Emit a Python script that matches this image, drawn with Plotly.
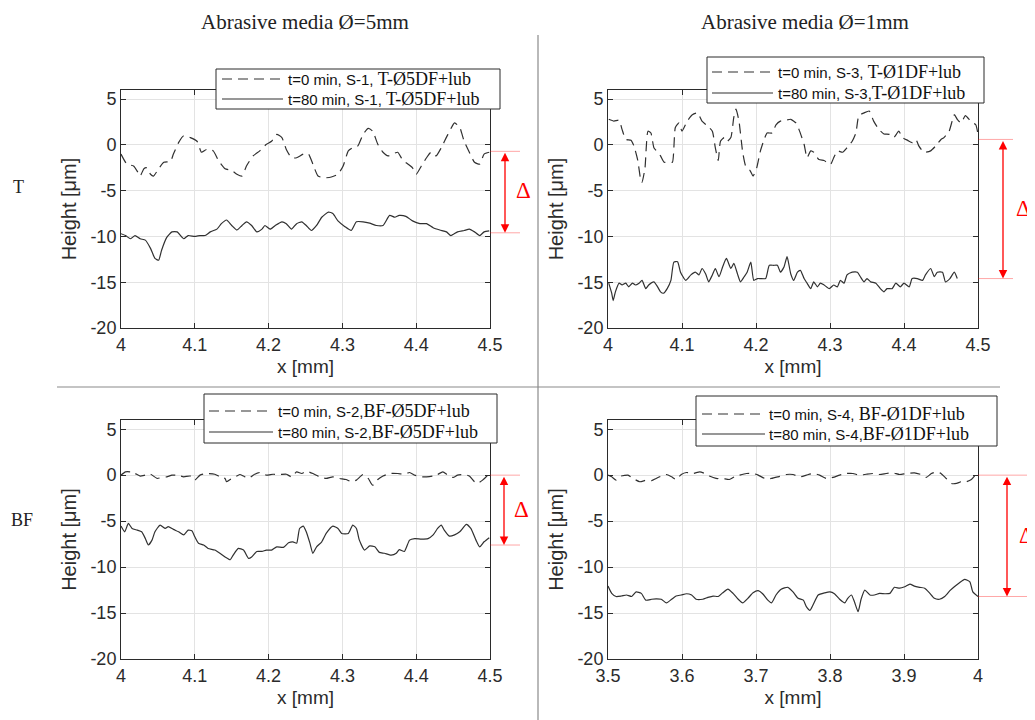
import plotly.graph_objects as go

# ---------------- data ----------------
# Panel 1 (T, Ø5mm)
x_s1_t0 = [4.000,4.008,4.017,4.023,4.026,4.031,4.035,4.040,4.044,4.051,4.058,4.067,4.071,4.078,4.085,4.094,4.103,4.109,4.116,4.125,4.132,4.141,4.150,4.157,4.164,4.170,4.179,4.188,4.197,4.204,4.211,4.218,4.224,4.231,4.238,4.247,4.254,4.260,4.267,4.276,4.285,4.294,4.301,4.308,4.314,4.321,4.328,4.335,4.341,4.348,4.355,4.362,4.368,4.375,4.382,4.389,4.395,4.400,4.407,4.414,4.420,4.427,4.434,4.443,4.452,4.459,4.465,4.472,4.479,4.486,4.492,4.499]
y_s1_t0 = [-1.0,-2.1,-2.3,-3.0,-3.4,-2.6,-2.5,-3.2,-3.4,-2.6,-1.9,-1.8,-1.0,0.25,1.0,0.8,0.4,-0.8,-0.5,-0.65,-1.7,-2.6,-2.8,-3.2,-3.4,-2.3,-1.2,-0.65,0.07,0.4,1.15,0.8,-0.5,-1.4,-1.4,-1.0,-1.0,-2.1,-3.4,-3.6,-3.5,-3.2,-2.3,-0.65,-0.3,-0.1,1.15,1.8,1.5,0.07,-0.8,-1.2,-1.0,-0.8,-1.7,-2.1,-2.5,-3.2,-2.3,-1.4,-0.8,-1.2,-0.3,1.15,2.4,1.9,0.4,-0.8,-1.9,-2.1,-1.0,-0.8]
x_s1_t80 = [4.000,4.006,4.013,4.019,4.026,4.033,4.040,4.046,4.051,4.055,4.062,4.069,4.076,4.085,4.091,4.100,4.107,4.114,4.121,4.130,4.136,4.143,4.150,4.157,4.164,4.170,4.177,4.184,4.191,4.195,4.202,4.209,4.218,4.224,4.231,4.238,4.245,4.251,4.258,4.265,4.272,4.281,4.287,4.294,4.303,4.312,4.319,4.328,4.337,4.346,4.355,4.364,4.371,4.377,4.386,4.395,4.405,4.414,4.423,4.432,4.441,4.447,4.456,4.465,4.472,4.479,4.486,4.492,4.499]
y_s1_t80 = [-9.7,-9.9,-10.25,-9.9,-10.25,-10.4,-11.3,-12.4,-12.6,-11.5,-10.1,-9.5,-9.5,-10.25,-9.9,-10.0,-9.9,-9.9,-9.5,-9.2,-8.6,-8.2,-8.8,-9.3,-8.8,-8.4,-8.8,-9.5,-9.2,-8.8,-9.2,-8.8,-8.4,-8.6,-9.2,-8.6,-8.4,-8.8,-9.35,-8.8,-7.9,-7.35,-7.5,-8.3,-8.9,-9.35,-8.4,-8.4,-8.55,-8.8,-8.8,-7.7,-7.9,-7.7,-7.8,-8.3,-8.6,-8.6,-9.05,-9.3,-9.5,-9.9,-9.5,-9.35,-9.2,-9.5,-9.9,-9.5,-9.4]

# Panel 2 (T, Ø1mm)
x_s3_t0 = [4.001,4.008,4.015,4.019,4.024,4.031,4.035,4.040,4.044,4.046,4.050,4.054,4.058,4.062,4.067,4.071,4.076,4.082,4.087,4.091,4.096,4.100,4.107,4.114,4.121,4.127,4.134,4.141,4.145,4.149,4.152,4.157,4.161,4.166,4.170,4.173,4.177,4.182,4.186,4.192,4.196,4.201,4.206,4.211,4.215,4.222,4.227,4.233,4.240,4.247,4.254,4.258,4.265,4.269,4.274,4.278,4.285,4.292,4.296,4.301,4.305,4.310,4.317,4.323,4.330,4.335,4.339,4.346,4.353,4.359,4.366,4.373,4.380,4.386,4.393,4.398,4.405,4.411,4.416,4.420,4.425,4.429,4.436,4.443,4.450,4.454,4.461,4.468,4.472,4.477,4.483,4.490,4.497,4.500]
y_s3_t0 = [2.8,2.6,2.7,1.7,0.6,0.5,-0.1,-1.6,-3.7,-4.1,-2.5,1.5,1.3,-0.3,-0.8,-1.2,-1.9,-1.8,-1.9,1.9,2.4,1.5,2.6,3.3,3.5,2.6,2.1,1.5,-0.3,-1.7,0.4,0.8,0.4,0.8,3.0,3.9,2.6,-0.8,-2.3,-2.8,-3.4,-2.5,-0.65,0.6,1.3,1.3,2.2,2.6,2.7,2.8,2.4,1.7,0.07,-1.4,-0.65,-0.8,-1.6,-1.7,-1.9,-2.1,-1.4,-0.65,-0.8,-0.3,0.4,1.3,3.2,3.5,3.7,2.6,1.7,1.2,1.15,0.8,1.5,0.8,0.5,0.25,0.6,-0.1,-0.65,-0.8,-0.65,-0.1,0.6,0.8,1.5,3.3,2.8,2.4,3.2,2.6,2.2,1.15]
x_s3_t80 = [4.001,4.005,4.007,4.010,4.015,4.019,4.024,4.028,4.033,4.037,4.042,4.046,4.051,4.055,4.062,4.067,4.071,4.075,4.080,4.085,4.089,4.094,4.098,4.105,4.112,4.118,4.123,4.127,4.132,4.136,4.141,4.145,4.150,4.155,4.160,4.166,4.170,4.175,4.179,4.184,4.188,4.193,4.197,4.202,4.206,4.213,4.218,4.224,4.229,4.233,4.238,4.242,4.247,4.251,4.256,4.260,4.265,4.269,4.274,4.278,4.283,4.287,4.292,4.299,4.305,4.310,4.314,4.319,4.323,4.330,4.337,4.341,4.346,4.350,4.355,4.362,4.368,4.373,4.377,4.384,4.389,4.395,4.400,4.407,4.411,4.418,4.425,4.429,4.436,4.441,4.445,4.452,4.456,4.462,4.468,4.472]
y_s3_t80 = [-15.1,-16.2,-17.0,-16.05,-15.1,-15.3,-15.1,-15.5,-15.1,-15.3,-15.1,-14.8,-15.7,-15.3,-14.96,-15.5,-16.05,-16.2,-15.7,-14.8,-12.8,-12.75,-13.9,-14.8,-14.2,-13.9,-14.2,-13.5,-14.1,-14.96,-14.2,-13.5,-14.4,-13.3,-12.4,-13.5,-12.95,-14.1,-14.96,-14.4,-13.9,-12.8,-14.8,-14.6,-14.6,-14.6,-13.15,-13.15,-13.15,-13.9,-13.3,-12.2,-14.1,-14.8,-13.9,-13.7,-14.6,-15.1,-15.7,-14.96,-15.5,-15.1,-15.3,-15.7,-15.3,-15.5,-14.8,-15.1,-14.2,-13.9,-13.9,-14.4,-14.96,-14.6,-14.96,-15.1,-15.7,-16.05,-15.7,-15.7,-15.1,-15.5,-15.1,-15.5,-14.6,-14.6,-14.8,-14.2,-13.5,-14.4,-13.9,-13.9,-14.96,-14.6,-13.9,-14.6]

# Panel 3 (BF, Ø5mm)
x_s2_t0 = [4.000,4.006,4.013,4.019,4.026,4.033,4.040,4.049,4.055,4.062,4.069,4.076,4.085,4.094,4.100,4.107,4.116,4.127,4.134,4.141,4.143,4.148,4.155,4.161,4.166,4.173,4.179,4.188,4.197,4.206,4.215,4.224,4.231,4.238,4.245,4.251,4.260,4.269,4.278,4.287,4.296,4.305,4.312,4.319,4.328,4.335,4.341,4.348,4.355,4.364,4.375,4.384,4.391,4.398,4.405,4.414,4.423,4.429,4.436,4.443,4.450,4.456,4.465,4.472,4.479,4.483,4.490,4.497]
y_s2_t0 = [0,0.36,0.36,0.18,-0.1,0,0.1,-0.36,-0.25,-0.18,0,0,-0.18,-0.1,-0.54,0,0.18,0.1,-0.18,-0.36,-0.72,-0.47,-0.18,0.07,-0.1,-0.36,0,0.29,0,0.1,0.07,0.1,-0.18,0.36,0.18,0.43,0.18,-0.18,-0.36,-0.18,-0.36,-0.47,-0.72,-0.54,0.07,-0.36,-1.1,-0.47,-0.1,0.18,0.18,0.1,0.29,0,-0.18,-0.18,-0.1,0.07,0.36,0,-0.25,0,0.07,-0.1,-0.72,-0.9,-0.54,0]
x_s2_t80 = [4.000,4.005,4.010,4.015,4.022,4.028,4.033,4.037,4.042,4.046,4.053,4.060,4.064,4.071,4.078,4.085,4.091,4.096,4.100,4.105,4.112,4.118,4.127,4.134,4.141,4.148,4.152,4.159,4.166,4.173,4.177,4.184,4.191,4.197,4.204,4.211,4.220,4.227,4.233,4.238,4.242,4.247,4.251,4.256,4.260,4.265,4.272,4.278,4.287,4.294,4.299,4.308,4.314,4.319,4.323,4.330,4.337,4.344,4.350,4.357,4.366,4.373,4.377,4.384,4.391,4.398,4.407,4.416,4.423,4.429,4.434,4.438,4.445,4.452,4.459,4.468,4.474,4.481,4.486,4.492,4.499]
y_s2_t80 = [-5.54,-6.16,-5.25,-5.8,-5.98,-6.16,-6.9,-7.6,-7.07,-6.16,-5.43,-5.8,-5.6,-5.9,-6.16,-6.5,-5.98,-6.05,-6.7,-7.4,-7.6,-7.97,-8.15,-8.5,-8.9,-9.2,-8.7,-7.97,-8.15,-9.06,-8.9,-8.3,-8.3,-8.15,-8.15,-7.8,-7.86,-7.36,-7.25,-7.4,-5.8,-5.54,-6.16,-7.4,-8.5,-7.8,-7.25,-6.34,-5.54,-5.8,-6.34,-6.34,-5.43,-5.8,-7.07,-8.15,-7.7,-7.8,-8.4,-8.5,-8.7,-8.5,-8.1,-8.3,-7.07,-6.9,-6.95,-6.9,-6.5,-5.8,-5.43,-5.98,-6.63,-6.5,-6.16,-5.36,-5.8,-7.07,-7.8,-7.25,-6.8]

# Panel 4 (BF, Ø1mm)
x_s4_t0 = [3.500,3.505,3.511,3.518,3.527,3.534,3.543,3.552,3.559,3.565,3.572,3.579,3.586,3.592,3.599,3.606,3.615,3.624,3.631,3.637,3.646,3.655,3.664,3.671,3.678,3.687,3.696,3.703,3.712,3.721,3.730,3.741,3.750,3.759,3.768,3.777,3.786,3.795,3.804,3.813,3.822,3.831,3.840,3.849,3.858,3.867,3.876,3.885,3.894,3.903,3.914,3.923,3.930,3.937,3.944,3.950,3.957,3.964,3.971,3.977,3.984,3.991,3.998]
y_s4_t0 = [0,-0.18,-0.54,-0.1,0,-0.36,-0.72,-0.54,-0.6,-0.36,-0.1,0.07,-0.18,-0.47,0.07,0.29,0.18,0.36,0.18,-0.1,-0.36,-0.36,-0.47,-0.18,0,0.18,0.18,0,-0.36,-0.36,-0.18,0.07,0.07,-0.18,0,0.18,0,-0.36,-0.25,0,0.18,0.18,0,0.1,0.18,0.07,0.18,0.25,0.07,0.18,0.25,0.07,-0.25,0.18,0.36,0.18,-0.36,-0.9,-0.9,-0.72,-0.72,-0.47,0.18]
x_s4_t80 = [3.500,3.505,3.511,3.518,3.525,3.532,3.538,3.545,3.551,3.559,3.565,3.572,3.579,3.586,3.592,3.599,3.606,3.613,3.619,3.628,3.635,3.642,3.649,3.655,3.662,3.669,3.676,3.682,3.689,3.696,3.703,3.709,3.716,3.721,3.727,3.734,3.743,3.750,3.757,3.764,3.768,3.773,3.777,3.784,3.793,3.800,3.806,3.813,3.820,3.824,3.829,3.833,3.838,3.842,3.847,3.854,3.860,3.867,3.874,3.881,3.887,3.894,3.901,3.908,3.914,3.921,3.928,3.935,3.941,3.948,3.955,3.962,3.968,3.975,3.982,3.989,3.993,4.000]
y_s4_t80 = [-12.07,-12.86,-13.2,-13.15,-13.04,-13.2,-12.7,-12.86,-13.6,-13.5,-13.45,-13.5,-13.9,-13.5,-13.15,-13.04,-12.9,-13.04,-13.5,-13.5,-13.3,-13.15,-13.2,-12.8,-12.4,-12.86,-13.5,-13.9,-13.4,-12.8,-12.57,-12.9,-13.6,-13.9,-13.04,-12.4,-12.2,-12.7,-13.4,-13.6,-14.3,-14.7,-14.13,-13.04,-12.8,-12.7,-12.9,-13.5,-13.9,-13.4,-13.04,-13.77,-14.86,-13.5,-12.5,-13.04,-13.04,-12.86,-12.9,-12.86,-12.2,-12.3,-12.14,-11.85,-12.07,-12.2,-12.3,-12.86,-13.4,-13.5,-13.2,-12.57,-12.14,-11.7,-11.34,-11.6,-12.7,-13.2]

# Delta (height difference) marker levels per panel: (top, bottom)
delta_levels = [(-0.7, -9.6), (0.6, -14.6), (0.0, -7.6), (0.0, -13.2)]

# Labels
column_titles = ["Abrasive media Ø=5mm", "Abrasive media Ø=1mm"]
row_titles = ["T", "BF"]
legend_labels = [
    ("t=0 min, S-1, ", "T-Ø5DF+lub", "t=80 min, S-1, ", "T-Ø5DF+lub"),
    ("t=0 min, S-3, ", "T-Ø1DF+lub", "t=80 min, S-3,", "T-Ø1DF+lub"),
    ("t=0 min, S-2,", "BF-Ø5DF+lub", "t=80 min, S-2,", "BF-Ø5DF+lub"),
    ("t=0 min, S-4, ", "BF-Ø1DF+lub", "t=80 min, S-4,", "BF-Ø1DF+lub"),
]
xtick_vals_a = [4.0, 4.1, 4.2, 4.3, 4.4, 4.5]
xtick_text_a = ["4", "4.1", "4.2", "4.3", "4.4", "4.5"]
xtick_vals_b = [3.5, 3.6, 3.7, 3.8, 3.9, 4.0]
xtick_text_b = ["3.5", "3.6", "3.7", "3.8", "3.9", "4"]
ytick_vals = [-20, -15, -10, -5, 0, 5]
ytick_text = ["-20", "-15", "-10", "-5", "0", "5"]
x_ranges = [[4, 4.5], [4, 4.5], [4, 4.5], [3.5, 4.0]]
y_range = [-20, 6]

# ---------------- layout geometry ----------------
# The page body has an 8 px margin; figure is sized so it still ends at the window edge.
OFF = 8
W, H = 1035 - OFF, 720 - OFF
SANS = "Liberation Sans, Arial, sans-serif"
SERIF = "Liberation Serif, Times New Roman, serif"
AXC = "#2b2b2b"
LINEC = "#303030"

def px(xp):
    return (xp - OFF) / W

def py(yp):
    return 1 - (yp - OFF) / H

x_domains = [[px(121), px(490)], [px(608), px(978)], [px(121), px(490)], [px(608), px(978)]]
y_domains = [[py(328), py(90)], [py(328), py(90)], [py(659), py(420)], [py(659), py(420)]]
# legend boxes (left, top, right, bottom), row centres, sample line x-range, text start
legend_box = [(216, 69, 500, 109), (707, 57, 984, 103), (204, 394, 497, 443), (696, 396, 997, 446)]
legend_rows = [(79, 99), (72, 93), (411, 432), (414, 434)]
legend_line = [(222, 283), (712, 773), (209, 273), (702, 765)]
legend_text_x = [286, 776, 276, 767]
arrow_x = [px(505), px(1003), px(504), px(1007)]
refline_x = [(px(490), px(520)), (px(978), px(1013)), (px(490), px(520)), (px(978), px(1030))]
delta_txt = [(px(523), py(190)), (px(1023), py(208)), (px(521), py(509)), (px(1026), py(535))]

series = [
    (x_s1_t0, y_s1_t0, x_s1_t80, y_s1_t80),
    (x_s3_t0, y_s3_t0, x_s3_t80, y_s3_t80),
    (x_s2_t0, y_s2_t0, x_s2_t80, y_s2_t80),
    (x_s4_t0, y_s4_t0, x_s4_t80, y_s4_t80),
]

fig = go.Figure()
layout = dict(
    width=W, height=H, margin=dict(l=0, r=0, t=0, b=0, autoexpand=False),
    paper_bgcolor="white", plot_bgcolor="white",
    font=dict(family=SANS, size=16, color=AXC),
    showlegend=False,
)

def serif_span(t):
    return "<span style=\"font-family:'Liberation Serif';font-size:18px\">" + t + "</span>"

annotations = []
shapes = []
DASH = "10px,6px"
for i in range(4):
    k = "" if i == 0 else str(i + 1)
    xa, ya = "x" + k, "y" + k
    x0, y0, x1, y1 = series[i]
    lab = legend_labels[i]
    n0 = min(len(x0), len(y0))
    n1 = min(len(x1), len(y1))
    fig.add_trace(go.Scatter(
        x=x0[:n0], y=y0[:n0], mode="lines", xaxis=xa, yaxis=ya,
        name=lab[0] + lab[1],
        line=dict(color=LINEC, width=1.2, dash=DASH, shape="spline", smoothing=0.5),
    ))
    fig.add_trace(go.Scatter(
        x=x1[:n1], y=y1[:n1], mode="lines", xaxis=xa, yaxis=ya,
        name=lab[2] + lab[3],
        line=dict(color=LINEC, width=1.2, shape="spline", smoothing=0.5),
    ))
    layout["xaxis" + k] = dict(
        domain=x_domains[i], range=x_ranges[i], anchor=ya, automargin=False,
        tickvals=xtick_vals_b if i == 3 else xtick_vals_a,
        ticktext=xtick_text_b if i == 3 else xtick_text_a,
        showline=True, mirror="ticks", linecolor=AXC, linewidth=1,
        ticks="inside", ticklen=5, tickcolor=AXC,
        showgrid=True, gridcolor="#e3e3e3", gridwidth=1, zeroline=False,
        tickfont=dict(size=18, family=SANS, color=AXC),
        title=dict(text="x [mm]", font=dict(size=19, family=SANS, color=AXC), standoff=6),
    )
    layout["yaxis" + k] = dict(
        domain=y_domains[i], range=y_range, anchor=xa, automargin=False,
        tickvals=ytick_vals, ticktext=ytick_text,
        showline=True, mirror="ticks", linecolor=AXC, linewidth=1,
        ticks="inside", ticklen=5, tickcolor=AXC,
        showgrid=True, gridcolor="#e3e3e3", gridwidth=1, zeroline=False,
        tickfont=dict(size=18, family=SANS, color=AXC),
        title=dict(text="Height [μm]", font=dict(size=20, family=SANS, color=AXC), standoff=8),
    )

    # legend box (drawn by hand so its size matches)
    bl, bt, br, bb = legend_box[i]
    shapes.append(dict(type="rect", xref="paper", yref="paper", layer="above",
                       x0=px(bl), x1=px(br), y0=py(bb), y1=py(bt),
                       fillcolor="white", line=dict(color=AXC, width=1)))
    r0, r1 = legend_rows[i]
    lx0, lx1 = legend_line[i]
    shapes.append(dict(type="line", xref="paper", yref="paper", layer="above",
                       x0=px(lx0), x1=px(lx1), y0=py(r0), y1=py(r0),
                       line=dict(color=LINEC, width=1.2, dash=DASH)))
    shapes.append(dict(type="line", xref="paper", yref="paper", layer="above",
                       x0=px(lx0), x1=px(lx1), y0=py(r1), y1=py(r1),
                       line=dict(color=LINEC, width=1.2)))
    for row_y, a, b in ((r0, lab[0], lab[1]), (r1, lab[2], lab[3])):
        annotations.append(dict(
            xref="paper", yref="paper", x=px(legend_text_x[i]), y=py(row_y),
            text=a + serif_span(b), showarrow=False, xanchor="left", yanchor="middle",
            font=dict(family=SANS, size=15, color="#111"),
        ))

    top, bot = delta_levels[i]
    for lvl in (top, bot):
        shapes.append(dict(type="line", xref="paper", yref=ya,
                           x0=refline_x[i][0], x1=refline_x[i][1], y0=lvl, y1=lvl,
                           line=dict(color="rgba(255,0,0,0.35)", width=1)))
    annotations.append(dict(
        xref="paper", yref=ya, x=arrow_x[i], y=bot, ax=0, ay=top,
        axref="pixel", ayref=ya, text="", showarrow=True,
        arrowhead=2, arrowside="end+start", arrowsize=1.3, arrowwidth=1.3,
        arrowcolor="#ff0000", startarrowhead=2, startarrowsize=1.3,
        standoff=0, startstandoff=0,
    ))
    tx, ty = delta_txt[i]
    annotations.append(dict(
        xref="paper", yref="paper", x=tx, y=ty, text="Δ", showarrow=False,
        xanchor="center", yanchor="middle",
        font=dict(family=SERIF, size=23, color="#ff0000"),
    ))

# column and row titles
for cx, txt in ((305, column_titles[0]), (805, column_titles[1])):
    annotations.append(dict(xref="paper", yref="paper", x=px(cx), y=1.0, text=txt,
                            showarrow=False, xanchor="center", yanchor="top",
                            font=dict(family=SERIF, size=21, color="#222")))
for (cx, cy), txt in (((18, 187), row_titles[0]), ((22, 520), row_titles[1])):
    annotations.append(dict(xref="paper", yref="paper", x=px(cx), y=py(cy), text=txt,
                            showarrow=False, xanchor="center", yanchor="middle",
                            font=dict(family=SERIF, size=18, color="#222")))

# divider lines
shapes.append(dict(type="line", xref="paper", yref="paper", x0=px(538), x1=px(538),
                   y0=py(35), y1=0, line=dict(color="#8a8a8a", width=1.2)))
shapes.append(dict(type="line", xref="paper", yref="paper", x0=px(57), x1=px(1000),
                   y0=py(387), y1=py(387), line=dict(color="#8a8a8a", width=1.2)))

layout["annotations"] = annotations
layout["shapes"] = shapes
fig.update_layout(**layout)
fig.write_html("out.html")
